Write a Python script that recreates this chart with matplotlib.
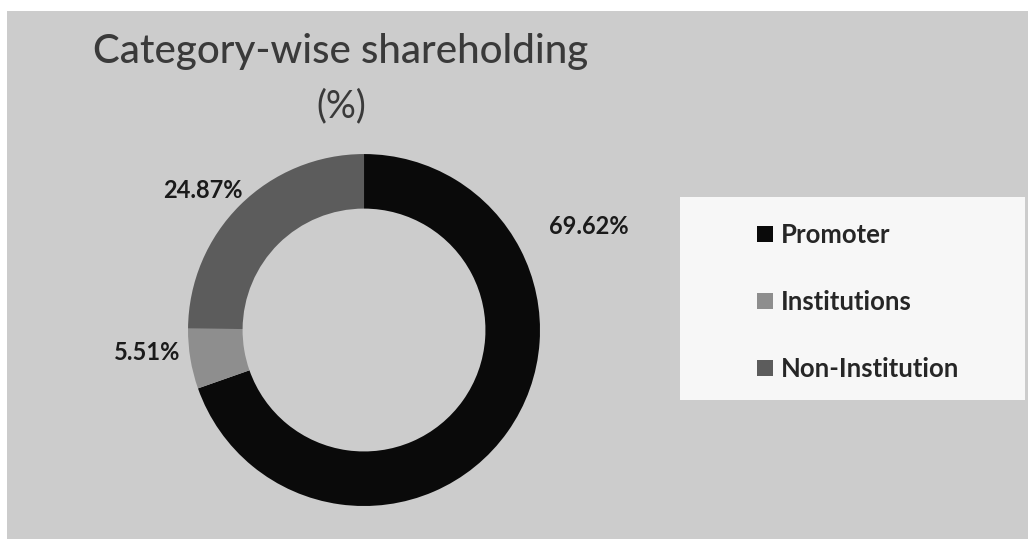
import matplotlib.pyplot as plt
from matplotlib.patches import Rectangle

categories = ["Promoter", "Institutions", "Non-Institution"]
shares = [69.62, 5.51, 24.87]
colors = ["#0a0a0a", "#8e8e8e", "#5c5c5c"]

# where the percentage labels sit, in pie radius units
label_pos = [(1.278, 0.59), (-1.233, -0.125), (-0.915, 0.795)]

plt.rcParams['font.family'] = ['Lato', 'DejaVu Sans']

fig = plt.figure(figsize=(10.28, 5.39), dpi=100)
fig.patch.set_facecolor("white")
fig.patches.append(Rectangle((7 / 1028, 0), 1, (539 - 11) / 539,
                             transform=fig.transFigure, facecolor="#cccccc",
                             edgecolor="none", zorder=-10))

ax = fig.add_axes([0.1829, 0.0612, 0.3424, 0.653])
wedges, _ = ax.pie(shares, colors=colors, startangle=90, counterclock=False,
                   radius=1, wedgeprops=dict(width=0.31, edgecolor="none"))
ax.set_xlim(-1, 1)
ax.set_ylim(-1, 1)
ax.set_aspect("equal")
ax.axis("off")

for val, (x, y) in zip(shares, label_pos):
    ax.text(x, y, "{:.2f}%".format(val), ha="center", va="center",
            fontsize=17, fontweight="bold", color="#1a1a1a")

fig.text(341 / 1028, 1 - 51 / 539, "Category-wise shareholding", ha="center",
         va="center", fontsize=29, fontweight="medium", color="#3a3a3a")
fig.text(341 / 1028, 1 - 106 / 539, "(%)", ha="center", va="center",
         fontsize=27, color="#3a3a3a")

# legend box
fig.patches.append(Rectangle((680 / 1028, 1 - 400 / 539), 345 / 1028, 203 / 539,
                             transform=fig.transFigure, facecolor="#f7f7f7",
                             edgecolor="none", zorder=-5))
leg = fig.legend(wedges, categories, loc="upper left",
                 bbox_to_anchor=(734 / 1028, 1 - 200 / 539), frameon=False,
                 handlelength=0.6, handleheight=0.6, handletextpad=0.32,
                 labelspacing=1.67, prop=dict(size=18.5, weight="bold"))
for t in leg.get_texts():
    t.set_color("#262626")

fig.savefig("out.png", dpi=100)
